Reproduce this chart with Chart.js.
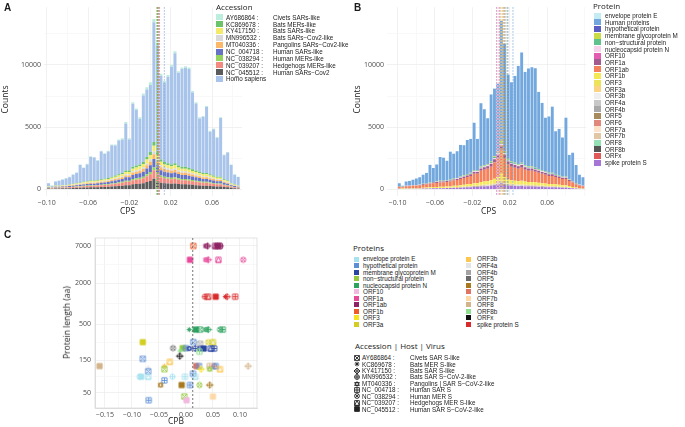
<!DOCTYPE html>
<html><head><meta charset="utf-8">
<script src="https://cdn.jsdelivr.net/npm/chart.js@4.4.0/dist/chart.umd.min.js"></script>
<style>
body{margin:0;background:#fff;}
#wrap{position:relative;width:685px;height:427px;overflow:hidden;background:#fff;font-family:"Liberation Sans",Arial,sans-serif;color:#1a1a1a;}
.abs{position:absolute;white-space:nowrap;}
.tag{font-weight:bold;font-size:10px;}
.atitle{font-family:"Open Sans",sans-serif;font-size:8.5px;color:#1a1a1a;}
.leg{font-family:"Liberation Sans Narrow","Liberation Sans",sans-serif;font-size:6.3px;line-height:7px;color:#222;}
.legt{font-family:"Open Sans",sans-serif;font-size:8px;color:#222;}
.key{position:absolute;width:7px;height:6px;}
</style></head><body>
<div id="wrap">
  <canvas id="histA" class="abs" style="left:0;top:0" width="250" height="215"></canvas>
  <canvas id="histB" class="abs" style="left:342px;top:0" width="252" height="215"></canvas>
  <canvas id="scatC" class="abs" style="left:0;top:225px" width="265" height="202"></canvas>
  <div class="abs tag" style="left:4px;top:2px">A</div>
  <div class="abs tag" style="left:354px;top:2px">B</div>
  <div class="abs tag" style="left:4px;top:229px">C</div>
  <div class="abs atitle" style="left:-9px;top:94px;transform:rotate(-90deg)">Counts</div>
  <div class="abs atitle" style="left:343px;top:94px;transform:rotate(-90deg)">Counts</div>
  <div class="abs atitle" style="left:120px;top:205px">CPS</div>
  <div class="abs atitle" style="left:481px;top:205px">CPS</div>
  <div class="abs atitle" style="left:168px;top:415px">CPB</div>
  <div class="abs atitle" style="left:30px;top:317px;transform:rotate(-90deg)">Protein length (aa)</div>
  <div id="legA"></div><div id="legB"></div><div id="legC1"></div><div id="legC2"></div>
</div>
<script>
// ---------- data: histograms (A, B) ----------
const binCentersA = [-0.0983,-0.0949,-0.0915,-0.0881,-0.0847,-0.0813,-0.0779,-0.0745,-0.0711,-0.0677,
  -0.0643,-0.0609,-0.0575,-0.0541,-0.0507,-0.0473,-0.0439,-0.0405,-0.0371,-0.0337,
  -0.0303,-0.0269,-0.0235,-0.0201,-0.0167,-0.0133,-0.0099,-0.0065,-0.0031,0.0003,
  0.0037,0.0071,0.0105,0.0139,0.0173,0.0207,0.0241,0.0275,0.0309,0.0343,
  0.0377,0.0411,0.0445,0.0479,0.0513,0.0547,0.0581,0.0615,0.0649,0.0683,
  0.0717,0.0751,0.0785,0.0819,0.0853];
const binCentersB = [-0.0982,-0.0946,-0.0909,-0.0873,-0.0836,-0.0800,-0.0764,-0.0727,-0.0691,-0.0654,
  -0.0618,-0.0582,-0.0545,-0.0509,-0.0472,-0.0436,-0.0400,-0.0363,-0.0327,-0.0290,
  -0.0254,-0.0218,-0.0181,-0.0145,-0.0108,-0.0072,-0.0036,0.0001,0.0037,0.0074,
  0.0110,0.0146,0.0183,0.0219,0.0256,0.0292,0.0328,0.0365,0.0401,0.0438,
  0.0474,0.0510,0.0547,0.0583,0.0620,0.0656,0.0692,0.0729,0.0765,0.0802,
  0.0838,0.0874,0.0911,0.0947,0.0984];

const homoCounts = [230,90,330,380,420,520,570,720,820,1410,1110,1350,1900,1850,1550,2240,1990,2140,2530,2420,
  2720,2710,3800,2500,5070,4470,3660,5350,5420,5390,9630,8590,6730,6350,6950,7860,8850,7470,7870,7970,
  7980,6190,5400,4300,4510,5310,3420,3720,3130,4730,1940,2250,1460,770,680];

const accNC045512 = [55,44,66,66,77,77,88,99,110,121,132,143,154,154,165,176,187,198,220,242,264,286,330,330,396,418,440,484,572,660,836,660,528,484,462,440,462,418,396,396,374,352,330,308,286,286,264,242,220,220,176,154,110,88,66];
const accNC039207 = [45,36,54,54,63,63,72,81,90,99,108,117,126,126,135,144,153,162,180,198,216,234,270,270,324,342,360,396,468,540,684,540,432,396,378,360,378,342,324,324,306,288,270,252,234,234,216,198,180,180,144,126,90,72,54];
const accNC038294 = [15,12,18,18,21,21,24,27,30,33,36,39,42,42,45,48,51,54,60,66,72,78,90,90,108,114,120,132,156,180,228,180,144,132,126,120,126,114,108,108,102,96,90,84,78,78,72,66,60,60,48,42,30,24,18];
const accNC004718 = [45,36,54,54,63,63,72,81,90,99,108,117,126,126,135,144,153,162,180,198,216,234,270,270,324,342,360,396,468,540,684,540,432,396,378,360,378,342,324,324,306,288,270,252,234,234,216,198,180,180,144,126,90,72,54];
const accMT040336 = [25,20,30,30,35,35,40,45,50,55,60,65,70,70,75,80,85,90,100,110,120,130,150,150,180,190,200,220,260,300,380,300,240,220,210,200,210,190,180,180,170,160,150,140,130,130,120,110,100,100,80,70,50,40,30];
const accMN996532 = [15,12,18,18,21,21,24,27,30,33,36,39,42,42,45,48,51,54,60,66,72,78,90,90,108,114,120,132,156,180,228,180,144,132,126,120,126,114,108,108,102,96,90,84,78,78,72,66,60,60,48,42,30,24,18];
const accKY417150 = [30,24,36,36,42,42,48,54,60,66,72,78,84,84,90,96,102,108,120,132,144,156,180,180,216,228,240,264,312,360,456,360,288,264,252,240,252,228,216,216,204,192,180,168,156,156,144,132,120,120,96,84,60,48,36];
const accKC869678 = [20,16,24,24,28,28,32,36,40,44,48,52,56,56,60,64,68,72,80,88,96,104,120,120,144,152,160,176,208,240,304,240,192,176,168,160,168,152,144,144,136,128,120,112,104,104,96,88,80,80,64,56,40,32,24];
const accAY686864 = [18,14,21,21,25,25,28,32,35,39,42,46,49,49,53,56,60,63,70,77,84,91,105,105,126,133,140,154,182,210,266,210,168,154,147,140,147,133,126,126,119,112,105,98,91,91,84,77,70,70,56,49,35,28,21];

const protSpike = [30,24,36,36,42,42,48,54,60,66,72,78,84,84,90,96,102,108,120,132,144,156,180,180,216,228,240,264,312,360,456,360,288,264,252,240,252,228,216,216,204,192,180,168,156,156,144,132,120,120,96,84,60,48,36];
const protORF1b = [33,26,39,39,46,46,52,59,65,72,78,85,91,91,98,104,111,117,130,143,156,169,195,195,234,247,260,286,338,390,494,390,312,286,273,260,273,247,234,234,221,208,195,182,169,169,156,143,130,130,104,91,65,52,39];
const protORF1ab = [125,100,150,150,175,175,200,225,250,275,300,325,350,350,375,400,425,450,500,550,600,650,750,750,900,950,1000,1100,1300,1500,1900,1500,1200,1100,1050,1000,1050,950,900,900,850,800,750,700,650,650,600,550,500,500,400,350,250,200,150];
const protORF1a = [25,20,30,30,35,35,40,45,50,55,60,65,70,70,75,80,85,90,100,110,120,130,150,150,180,190,200,220,260,300,380,300,240,220,210,200,210,190,180,180,170,160,150,140,130,130,120,110,100,100,80,70,50,40,30];
const protNonStruct = [10,8,12,12,14,14,16,18,20,22,24,26,28,28,30,32,34,36,40,44,48,52,60,60,72,76,80,88,104,120,152,120,96,88,84,80,84,76,72,72,68,64,60,56,52,52,48,44,40,40,32,28,20,16,12];
const protNucleo = [8,6,9,9,11,11,12,14,15,17,18,20,21,21,23,24,26,27,30,33,36,39,45,45,54,57,60,66,78,90,114,90,72,66,63,60,63,57,54,54,51,48,45,42,39,39,36,33,30,30,24,21,15,12,9];
const protMembrane = [5,4,6,6,7,7,8,9,10,11,12,13,14,14,15,16,17,18,20,22,24,26,30,30,36,38,40,44,52,60,76,60,48,44,42,40,42,38,36,36,34,32,30,28,26,26,24,22,20,20,16,14,10,8,6];
const protORF3a = [5,4,6,6,7,7,8,9,10,11,12,13,14,14,15,16,17,18,20,22,24,26,30,30,36,38,40,44,52,60,76,60,48,44,42,40,42,38,36,36,34,32,30,28,26,26,24,22,20,20,16,14,10,8,6];
const protHypo = [3,2,3,3,4,4,4,5,5,6,6,7,7,7,8,8,9,9,10,11,12,13,15,15,18,19,20,22,26,30,38,30,24,22,21,20,21,19,18,18,17,16,15,14,13,13,12,11,10,10,8,7,5,4,3];
const protEnvelope = [3,2,3,3,4,4,4,5,5,6,6,7,7,7,8,8,9,9,10,11,12,13,15,15,18,19,20,22,26,30,38,30,24,22,21,20,21,19,18,18,17,16,15,14,13,13,12,11,10,10,8,7,5,4,3];
const protORF3 = [0,0,0,0,0,0,0,0,5,5,5,5,5,5,5,5,8,8,10,10,12,13,15,15,18,19,20,22,26,30,38,30,24,22,21,20,21,19,18,18,17,16,15,14,13,13,12,11,10,10,8,0,0,0,0];
const protORF8 = [0,0,0,0,0,0,0,0,5,5,5,5,5,5,5,5,8,8,10,10,12,13,15,15,18,19,20,22,26,30,38,30,24,22,21,20,21,19,18,18,17,16,15,14,13,13,12,11,10,10,8,0,0,0,0];
const protMinor = [0,0,0,0,0,0,0,0,0,0,0,0,0,0,0,0,3,3,4,4,5,5,6,6,7,8,8,9,10,12,15,12,10,9,8,8,8,8,7,7,7,6,6,6,5,5,5,4,4,4,3,0,0,0,0];

// dashed mean lines
const meanA = [0.0062,0.0068,0.0072,0.0078,0.0082,0.0088,0.0066,0.0092,0.0075,0.0138];
const meanBNames = ['envelope protein E','Human proteins','hypothetical protein','membrane glycoprotein M','non\u2212structural protein','nucleocapsid protein N','ORF10','ORF1a','ORF1ab','ORF1b','ORF3a','ORF6','ORF7a','ORF8','spike protein S'];
const meanB = [0.0065,0.0235,0.0180,0.0120,0.0140,0.0100,0.0060,0.0150,0.0130,0.0110,0.0160,0.0085,0.0075,0.0170,0.0095];

// ---------- data: scatter (C) ----------
const cpbValues = [0.0136,0.037,0.040,0.054,0.058,0.062,0.064, 0.0074,0.037,0.041,0.060,0.106,
  0.035,0.041,0.055,0.073,0.076,0.091, 0.006,0.018,0.026,0.037,0.041,0.063,0.068,
  -0.080,0.0136,0.026,0.041,0.050, -0.024,-0.006,0.000,0.006,0.017,0.026,0.033,0.046,0.052,
  -0.011,0.025,-0.0115,-0.080,-0.160,0.115,0.019,0.024,0.044,0.052,0.055,-0.040,-0.030,
  -0.070,-0.040,0.028,0.044,0.063,-0.070,-0.086,-0.083,-0.070,-0.040,-0.025,-0.002,0.013,0.017,
  -0.047,-0.008,0.0074,0.025,0.044,-0.003,0.050,-0.069,0.001];
const protLengths = [7000,7000,7000,7000,7000,7000,7000, 4400,4400,4400,4400,4400,
  1270,1270,1270,1270,1270,1270, 420,420,420,420,420,420,420,
  275,275,260,275,275, 225,225,225,222,222,222,222,222,222,
  205,200,172,157,123,123,123,123,123,123,123,123,142,
  115,111,111,111,111,103,86,86,86,76,86,86,95,86,
  65,65,65,65,65,44,44,39,39];
const protNames = ['ORF1b','ORF1ab','ORF1ab','ORF1ab','ORF1ab','ORF1ab','ORF1ab','ORF1a','ORF1a','ORF1a','ORF1a','ORF1a',
  'spike protein S','spike protein S','spike protein S','spike protein S','spike protein S','spike protein S',
  'nucleocapsid protein N','nucleocapsid protein N','nucleocapsid protein N','nucleocapsid protein N','nucleocapsid protein N','nucleocapsid protein N','nucleocapsid protein N',
  'ORF3a','hypothetical protein','ORF4b','ORF3a','ORF3a','ORF5','non\u2212structural protein','hypothetical protein',
  'membrane glycoprotein M','membrane glycoprotein M','membrane glycoprotein M','membrane glycoprotein M','membrane glycoprotein M','membrane glycoprotein M',
  'ORF8b','ORF8b','ORFx','hypothetical protein','ORF8','ORF8','ORF7a','hypothetical protein','ORF8','ORF7a','hypothetical protein','ORF3b','ORF3b',
  'ORF4a','non\u2212structural protein','ORF3','non\u2212structural protein','ORF3b','hypothetical protein','envelope protein E','envelope protein E','envelope protein E',
  'hypothetical protein','envelope protein E','envelope protein E','hypothetical protein','envelope protein E',
  'ORF6','ORF6','hypothetical protein','non\u2212structural protein','ORF6','non\u2212structural protein','ORF7b','hypothetical protein','ORF10'];
const accOfPoint = ['AY686864','MT040336','KY417150','NC_039207','NC_045512','NC_004718','MN996532','NC_045512','MT040336','KY417150','NC_039207','NC_038294',
  'MN996532','NC_039207','NC_045512','KC869678','KY417150','NC_004718',
  'KC869678','NC_045512','AY686864','MT040336','KY417150','NC_038294','NC_004718',
  'NC_045512','AY686864','AY686864','NC_038294','NC_039207','NC_038294','NC_045512','NC_004718',
  'MT040336','KY417150','NC_038294','NC_045512','NC_039207','NC_004718',
  'KC869678','NC_004718','KY417150','AY686864','NC_045512','KY417150','NC_045512','AY686864','NC_004718','MN996532','NC_039207','KC869678','NC_039207',
  'KC869678','AY686864','KY417150','MT040336','NC_039207','AY686864','NC_038294','NC_045512','NC_039207',
  'NC_004718','MN996532','NC_004718','NC_004718','NC_039207',
  'MT040336','NC_045512','NC_004718','NC_038294','KY417150','AY686864','NC_045512','NC_004718','NC_045512'];
const cpbMean = [0.0126];

// ---------- legends / styling ----------
const accLabels = ['AY686864','KC869678','KY417150','MN996532','MT040336','NC_004718','NC_038294','NC_039207','NC_045512'];
const hostA = ['Civets  SARs-like','Bats  MERs-like','Bats  SARs-like','Bats  SARs\u2212Cov2-like','Pangolins  SARs\u2212Cov2-like','Human  SARs-like','Human  MERs-like','Hedgehogs  MERs-like','Human  SARs\u2212Cov2'];
const hostC = ['Civets  SAR S-like','Bats  MER S-like','Bats  SAR S-like','Bats  SAR S\u2212CoV-2-like','Pangolins  |  SAR S\u2212CoV-2-like','Human  SAR S','Human  MER S','Hedgehogs  MER S-like','Human  SAR S\u2212CoV-2-like'];
const accColorsA = ['#bdeedd','#6cc46a','#f3ea6a','#d9d9d9','#fcb867','#6672c4','#92d45c','#f48a7f','#5b5b5b'];
const homoColor = '#a9c4ea';
const accShapes = [7,8,9,10,11,12,13,14,15];

const proteinLabelsB = ['envelope protein E','Human proteins','hypothetical protein','membrane glycoprotein M','non\u2212structural protein','nucleocapsid protein N','ORF10','ORF1a','ORF1ab','ORF1b','ORF3','ORF3a','ORF3b','ORF4a','ORF4b','ORF5','ORF6','ORF7a','ORF7b','ORF8','ORF8b','ORFx','spike protein S'];
const proteinColorsB = ['#c4ecf2','#72a8de','#5a5ec2','#cbdc45','#5fc28d','#f7d2ec','#e35cb2','#a25b8e','#f5815a','#f4e955','#ece35a','#fcd383','#efefef','#c8c8c8','#a9a9a9','#a88b5c','#e1877c','#fde2cc','#e2c7a4','#93e1b4','#555555','#e35858','#a676d6'];
const proteinsC = ['envelope protein E','hypothetical protein','membrane glycoprotein M','non\u2212structural protein','nucleocapsid protein N','ORF10','ORF1a','ORF1ab','ORF1b','ORF3','ORF3a',
  'ORF3b','ORF4a','ORF4b','ORF5','ORF6','ORF7a','ORF7b','ORF8','ORF8b','ORFx','spike protein S'];
const proteinColorsC = ['#a8e2ef','#5c8fd6','#2a46a0','#95c93d','#2ea35f','#f2b8e0','#e8489a','#8e2465','#f05a28','#f5e31e','#d2cf22',
  '#fdc64f','#e4e4e4','#a3a3a3','#6a6a6a','#a8791f','#e07462','#fdd9a8','#d4b48a','#8fe08f','#111111','#d92b2b'];

// B stacking bottom -> top
const seriesB = [
  ['spike protein S', protSpike],['ORFx', protMinor],['ORF8b', protMinor],['ORF8', protORF8],['ORF7b', protMinor],['ORF7a', protMinor],
  ['ORF6', protMinor],['ORF5', protMinor],['ORF4b', protMinor],['ORF4a', protMinor],['ORF3b', protMinor],['ORF3a', protORF3a],['ORF3', protORF3],
  ['ORF1b', protORF1b],['ORF1ab', protORF1ab],['ORF1a', protORF1a],['ORF10', protMinor],['nucleocapsid protein N', protNucleo],
  ['non\u2212structural protein', protNonStruct],['membrane glycoprotein M', protMembrane],['hypothetical protein', protHypo],
  ['Human proteins', homoCounts],['envelope protein E', protEnvelope]];
const seriesA = [
  ['NC_045512', accNC045512],['NC_039207', accNC039207],['NC_038294', accNC038294],['NC_004718', accNC004718],['MT040336', accMT040336],
  ['MN996532', accMN996532],['KY417150', accKY417150],['KC869678', accKC869678],['Homo sapiens', homoCounts],['AY686864', accAY686864]];

const tickFont = {family: 'Open Sans', size: 7};
const tickColor = '#4d4d4d';
const xTicksHist = [-0.10,-0.08,-0.06,-0.04,-0.02,0,0.02,0.04,0.06,0.08,0.10];
const xLabelsHist = [-0.10,-0.06,-0.02,0.02,0.06];
const yTicksHist = [0,2500,5000,7500,10000,12500];
const fmt = (v, d) => v.toFixed(d).replace('-', '\u2212');

const meanLines = {
  id: 'meanLines',
  afterDatasetsDraw(chart, args, opts) {
    const {ctx, chartArea, scales} = chart;
    opts.lines.forEach(l => {
      const x = scales.x.getPixelForValue(l.value);
      ctx.save();
      ctx.strokeStyle = l.color; ctx.lineWidth = opts.width; ctx.setLineDash(opts.dash);
      ctx.beginPath(); ctx.moveTo(x, chartArea.top); ctx.lineTo(x, chartArea.bottom); ctx.stroke();
      ctx.restore();
    });
  }
};

function histChart(id, bins, series, colorOf, lines, xmin, xmax, yAxisW) {
  return new Chart(document.getElementById(id), {
    type: 'bar',
    data: {
      datasets: series.map(([name, vals]) => ({
        label: name,
        data: vals.map((v, i) => ({x: bins[i], y: v})),
        backgroundColor: colorOf(name),
        borderWidth: 0,
        barPercentage: 0.86,
        categoryPercentage: 1
      }))
    },
    options: {
      responsive: false, animation: false,
      layout: {padding: {top: 1, right: 8, left: 0, bottom: 0}},
      plugins: {legend: {display: false}, tooltip: {enabled: false},
        meanLines: {lines: lines, width: 0.8, dash: [1.5, 1.5]}},
      scales: {
        x: {type: 'linear', min: xmin, max: xmax, stacked: true, offset: false,
          afterBuildTicks: a => { a.ticks = xTicksHist.filter(v => v >= xmin && v <= xmax).map(v => ({value: v})); },
          afterFit: a => { a.height = 19; },
          ticks: {font: tickFont, color: tickColor, padding: 3, maxRotation: 0, autoSkip: false,
            callback: v => xLabelsHist.some(m => Math.abs(m - v) < 1e-6) ? fmt(v, 2) : ''},
          grid: {offset: false, drawTicks: false, lineWidth: 0.7,
            color: c => xLabelsHist.some(m => Math.abs(m - c.tick.value) < 1e-6) ? '#ebebeb' : '#f5f5f5'},
          border: {display: false}},
        y: {min: -545, max: 14650, stacked: true,
          afterBuildTicks: a => { a.ticks = yTicksHist.map(v => ({value: v})); },
          afterFit: a => { a.width = yAxisW; },
          ticks: {font: tickFont, color: tickColor, padding: 3,
            callback: v => v % 5000 === 0 ? String(v) : ''},
          grid: {drawTicks: false, lineWidth: 0.7, color: c => c.tick.value % 5000 === 0 ? '#ebebeb' : '#f5f5f5'},
          border: {display: false}}
      }
    },
    plugins: [meanLines]
  });
}

const colorA = n => n === 'Homo sapiens' ? homoColor : accColorsA[accLabels.indexOf(n)];
const colorB = n => proteinColorsB[proteinLabelsB.indexOf(n)];
histChart('histA', binCentersA, seriesA, colorA,
  meanA.map((v, i) => ({value: v, color: i < 9 ? accColorsA[i] : '#7fa6e0'})), -0.1027, 0.089, 44);
histChart('histB', binCentersB, seriesB, colorB,
  meanB.map((v, i) => ({value: v, color: colorB(meanBNames[i])})), -0.1114, 0.1017, 45);

// ---------- point shapes (ggplot 7..15) ----------
function drawShape(ctx, shape, cx, cy, r, color) {
  ctx.strokeStyle = color; ctx.fillStyle = color; ctx.lineWidth = 0.9;
  ctx.beginPath();
  if (shape === 7) { ctx.rect(cx - r, cy - r, 2 * r, 2 * r); ctx.moveTo(cx - r, cy - r); ctx.lineTo(cx + r, cy + r); ctx.moveTo(cx + r, cy - r); ctx.lineTo(cx - r, cy + r); }
  if (shape === 8) { for (let k = 0; k < 4; k++) { const a = k * Math.PI / 4; ctx.moveTo(cx - r * Math.cos(a), cy - r * Math.sin(a)); ctx.lineTo(cx + r * Math.cos(a), cy + r * Math.sin(a)); } }
  if (shape === 9) { const q = r * 1.25; ctx.moveTo(cx, cy - q); ctx.lineTo(cx + q, cy); ctx.lineTo(cx, cy + q); ctx.lineTo(cx - q, cy); ctx.closePath(); ctx.moveTo(cx, cy - q); ctx.lineTo(cx, cy + q); ctx.moveTo(cx - q, cy); ctx.lineTo(cx + q, cy); }
  if (shape === 10) { ctx.arc(cx, cy, r, 0, Math.PI * 2); ctx.moveTo(cx, cy - r); ctx.lineTo(cx, cy + r); ctx.moveTo(cx - r, cy); ctx.lineTo(cx + r, cy); }
  if (shape === 11) { ctx.moveTo(cx, cy - r); ctx.lineTo(cx + r, cy + r * 0.6); ctx.lineTo(cx - r, cy + r * 0.6); ctx.closePath(); ctx.moveTo(cx, cy + r); ctx.lineTo(cx + r, cy - r * 0.6); ctx.lineTo(cx - r, cy - r * 0.6); ctx.closePath(); }
  if (shape === 12) { ctx.rect(cx - r, cy - r, 2 * r, 2 * r); ctx.moveTo(cx, cy - r); ctx.lineTo(cx, cy + r); ctx.moveTo(cx - r, cy); ctx.lineTo(cx + r, cy); }
  if (shape === 13) { ctx.arc(cx, cy, r, 0, Math.PI * 2); const d = r * 0.7; ctx.moveTo(cx - d, cy - d); ctx.lineTo(cx + d, cy + d); ctx.moveTo(cx + d, cy - d); ctx.lineTo(cx - d, cy + d); }
  if (shape === 14) { ctx.rect(cx - r, cy - r, 2 * r, 2 * r); ctx.moveTo(cx, cy - r); ctx.lineTo(cx + r, cy + r); ctx.lineTo(cx - r, cy + r); ctx.closePath(); }
  if (shape === 15) { ctx.rect(cx - r, cy - r, 2 * r, 2 * r); ctx.fill(); }
  ctx.stroke();
}
function shapeImage(shape, color, r) {
  const c = document.createElement('canvas');
  c.width = c.height = Math.ceil(2 * r + 5);
  drawShape(c.getContext('2d'), shape, c.width / 2, c.height / 2, r, color);
  return c;
}

// ---------- scatter C ----------
const xTicksC = [-0.15,-0.125,-0.10,-0.075,-0.05,-0.025,0,0.025,0.05,0.075,0.10,0.125];
const xLabelsC = [-0.15,-0.10,-0.05,0,0.05,0.10];
const yTicksC = [50,86.6,150,274,500,1000,2000,3742,7000];
const yLabelsC = [50,150,500,2000,7000];
const pointImgs = cpbValues.map((v, i) => shapeImage(accShapes[accLabels.indexOf(accOfPoint[i])],
  proteinColorsC[proteinsC.indexOf(protNames[i])], 2.6));

new Chart(document.getElementById('scatC'), {
  type: 'scatter',
  data: {datasets: [{data: cpbValues.map((v, i) => ({x: v, y: protLengths[i]})),
    pointStyle: c => pointImgs[c.dataIndex], pointRadius: 3}]},
  options: {
    responsive: false, animation: false,
    layout: {padding: {top: 13, right: 8, left: 0, bottom: 0}},
    plugins: {legend: {display: false}, tooltip: {enabled: false},
      meanLines: {lines: cpbMean.map(v => ({value: v, color: '#555'})), width: 0.8, dash: [2, 2]}},
    scales: {
      x: {type: 'linear', min: -0.1685, max: 0.1315,
        afterBuildTicks: a => { a.ticks = xTicksC.map(v => ({value: v})); },
        afterFit: a => { a.height = 19; },
        ticks: {font: tickFont, color: tickColor, padding: 3, maxRotation: 0, autoSkip: false,
          callback: v => xLabelsC.some(m => Math.abs(m - v) < 1e-6) ? fmt(v, 2) : ''},
        grid: {drawTicks: false, lineWidth: 0.7,
          color: c => xLabelsC.some(m => Math.abs(m - c.tick.value) < 1e-6) ? '#ebebeb' : '#f5f5f5'},
        border: {display: true, color: '#dcdcdc'}},
      y: {type: 'logarithmic', min: 30, max: 9160,
        afterBuildTicks: a => { a.ticks = yTicksC.map(v => ({value: v})); },
        afterFit: a => { a.width = 95; },
        ticks: {font: tickFont, color: tickColor, padding: 4, autoSkip: false,
          callback: v => yLabelsC.includes(v) ? String(v) : ''},
        grid: {drawTicks: false, lineWidth: 0.7, color: c => yLabelsC.includes(c.tick.value) ? '#ebebeb' : '#f5f5f5'},
        border: {display: true, color: '#dcdcdc'}}
    }
  },
  plugins: [meanLines, {id: 'frame', beforeDatasetsDraw(chart) {
    const {ctx, chartArea: a} = chart;
    ctx.save(); ctx.strokeStyle = '#dcdcdc'; ctx.lineWidth = 0.8;
    ctx.strokeRect(a.left, a.top, a.right - a.left, a.bottom - a.top); ctx.restore();
  }}]
});

// ---------- HTML legends ----------
function addText(parent, cls, x, y, txt) {
  const d = document.createElement('div');
  d.className = 'abs ' + cls; d.style.left = x + 'px'; d.style.top = y + 'px'; d.textContent = txt;
  parent.appendChild(d); return d;
}
function addKey(parent, x, y, color, w, h) {
  const k = document.createElement('div');
  k.className = 'key'; k.style.left = x + 'px'; k.style.top = y + 'px';
  k.style.width = w + 'px'; k.style.height = h + 'px'; k.style.background = color;
  parent.appendChild(k);
}
const legA = document.getElementById('legA');
addText(legA, 'legt', 216, 1, 'Accession');
accLabels.concat(['Homo sapiens']).forEach((a, i) => {
  const y = 17.3 + i * 6.85;
  addKey(legA, 216, y - 3, i < 9 ? accColorsA[i] : homoColor, 7, 6);
  addText(legA, 'leg', 226, y - 3.6, i < 9 ? a + ' :' : a);
  if (i < 9) addText(legA, 'leg', 273, y - 3.6, hostA[i]);
});
const legB = document.getElementById('legB');
addText(legB, 'legt', 593, 0, 'Protein');
proteinLabelsB.forEach((p, i) => {
  const y = 15.7 + i * 6.68;
  addKey(legB, 594, y - 3, proteinColorsB[i], 7, 6);
  addText(legB, 'leg', 605, y - 3.6, p);
});
const legC1 = document.getElementById('legC1');
addText(legC1, 'legt', 353, 242, 'Proteins');
proteinsC.forEach((p, i) => {
  const col = i < 11 ? 0 : 1, row = i % 11;
  const y = 259 + row * 6.55;
  addKey(legC1, col ? 466 : 354, y - 2.5, proteinColorsC[i], 5, 5);
  addText(legC1, 'leg', col ? 477 : 363, y - 3.6, p);
});
const legC2 = document.getElementById('legC2');
addText(legC2, 'legt', 355, 340, 'Accession | Host | Virus');
accLabels.forEach((a, i) => {
  const y = 357.7 + i * 6.45;
  const img = shapeImage(accShapes[i], '#222', 2.4);
  img.className = 'abs'; img.style.left = (357 - img.width / 2) + 'px'; img.style.top = (y - img.height / 2) + 'px';
  legC2.appendChild(img);
  addText(legC2, 'leg', 362, y - 3.6, a + ' :');
  addText(legC2, 'leg', 410, y - 3.6, hostC[i]);
});
</script>
</body></html>
